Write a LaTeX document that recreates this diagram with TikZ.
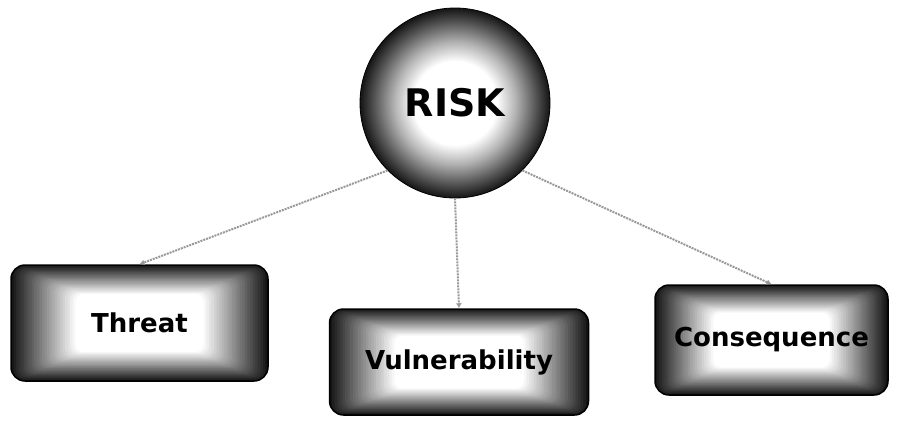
\documentclass[tikz,border=0pt]{standalone}
\usepackage{fontspec}
\setmainfont{DejaVu Sans}
\usetikzlibrary{positioning,calc,arrows.meta}

\pgfdeclareradialshading{riskglow}{\pgfpoint{0bp}{0bp}}{color(0bp)=(white); color(11bp)=(white); color(16bp)=(black!30); color(21bp)=(black!65); color(25bp)=(black!92); color(50bp)=(black!92)}

\begin{document}
\begin{tikzpicture}[x=1pt, y=-1pt,
    riskcircle/.style={circle, draw=black, thick, minimum size=190pt, inner sep=0pt,
        shading=riskglow, font=\fontsize{38}{42}\selectfont\bfseries},
    factorbox/.style={rectangle, rounded corners=14pt, draw=black, line width=1.5pt,
        inner sep=0pt, font=\fontsize{26}{30}\selectfont\bfseries,
        path picture={
            \foreach \k in {0,...,25}{
                \pgfmathsetmacro\s{1-\k/50}
                \pgfmathtruncatemacro\c{92-\k*92/25}
                \fill[black!\c, rounded corners=8pt]
                    ($(path picture bounding box.center)!\s!(path picture bounding box.north west)$)
                    rectangle
                    ($(path picture bounding box.center)!\s!(path picture bounding box.south east)$);
            }
        }},
    link/.style={draw=black!40, line width=2pt, densely dotted, -{Latex[length=5pt,width=6pt]}}]
    \useasboundingbox (0,0) rectangle (901,423);

    \node (risk) [riskcircle] at (455,103) {RISK};
    \node (threat) [factorbox, minimum width=257pt, minimum height=116pt] at (139.5,323) {Threat};
    \node (vuln) [factorbox, minimum width=259pt, minimum height=106pt] at (459,362) {Vulnerability};
    \node (conseq) [factorbox, minimum width=233pt, minimum height=110pt] at (771.5,340) {Consequence};

    \draw[link] (risk.south west) -- (threat.north);
    \draw[link] (risk.south) -- (vuln.north);
    \draw[link] (risk.south east) -- (conseq.north);
\end{tikzpicture}
\end{document}
